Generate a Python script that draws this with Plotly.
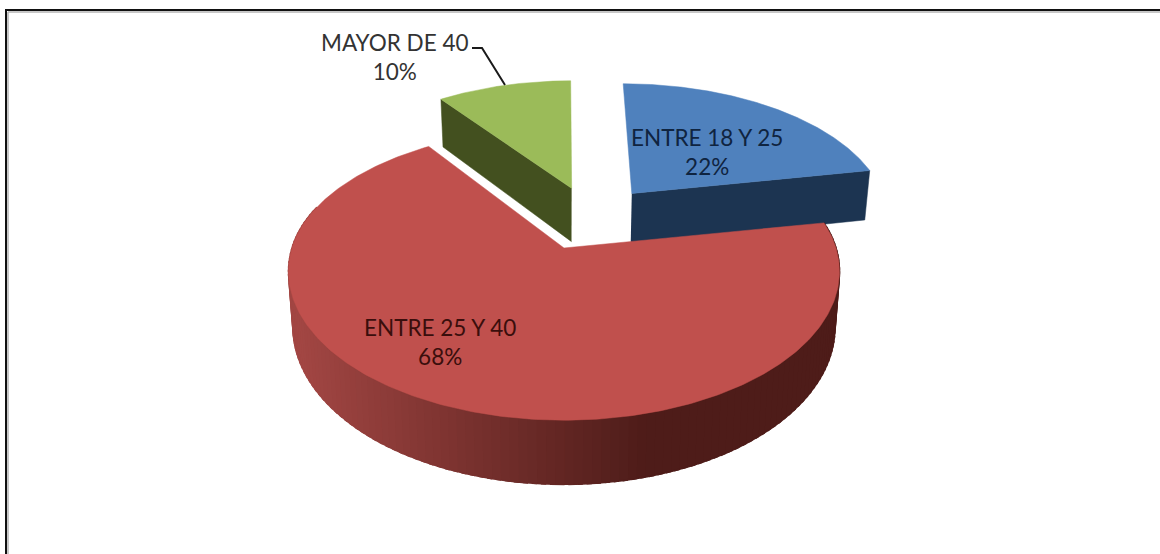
import numpy as np
import plotly.graph_objects as go

categories = ["ENTRE 18 Y 25", "ENTRE 25 Y 40", "MAYOR DE 40"]
values = [22, 68, 10]
percent_labels = ["22%", "68%", "10%"]

top_colors = ["#4F81BD", "#C0504D", "#9BBB59"]
side_colors = ["#1C3451", "#4E1C19", "#43501F"]
pulls = [(0.265, 0.40), (0.0, 0.0), (0.03, 0.44)]
radii = [0.98, 1.0, 0.97]
depths = [54.0, 54.0, 57.0]

CX, CY, A, B, K, SHRINK = 564.0, 248.0, 272.0, 145.0, 0.158, 0.0003
RED_END_NUDGE = 2.0   # degrees; the drawn cut sits a little past the rounded share
RED_BACK_SCALE = 0.95


def project(X, Y, z=0.0):
    d = 1 + K * Y
    return CX + A * X / d * (1 - SHRINK * z), CY + (-B * Y + z) / d


def mix(c1, c2, t):
    a = [int(c1[i:i + 2], 16) for i in (1, 3, 5)]
    b = [int(c2[i:i + 2], 16) for i in (1, 3, 5)]
    return "rgb(%d,%d,%d)" % tuple(round(p + (q - p) * t) for p, q in zip(a, b))


fig = go.Figure()


def poly(xs, ys, color, width=0.5):
    fig.add_trace(go.Scatter(x=list(xs), y=list(ys), mode="lines", fill="toself",
                             fillcolor=color, line=dict(color=color, width=width),
                             hoverinfo="skip", showlegend=False))


def draw_slice(i, t0, t1):
    if i == 1:
        t1 += RED_END_NUDGE
    th = np.radians(np.linspace(t0, t1, 300))
    ox, oy = pulls[i]
    r = radii[i]
    X = ox + r * np.sin(th)
    cos_part = np.cos(th)
    if i == 1:
        cos_part = np.where(cos_part > 0, cos_part * RED_BACK_SCALE, cos_part)
    Y = oy + r * cos_part
    dz = depths[i]
    ax, ay0 = project(ox, oy)
    ax1, ay1 = project(ox, oy, dz)
    if i in (0, 2):
        j = -1 if i == 0 else 0
        bx, by0 = project(X[j], Y[j])
        bx1, by1 = project(X[j], Y[j], dz)
        poly([ax, bx, bx1, ax1], [ay0, by0, by1, ay1], side_colors[i])
    else:
        keep = np.where(np.cos(th) < 0.3)[0]
        step = 2
        for k in keep[:-step:step]:
            m = min(k + step + 1, len(th) - 1)
            xa, ya0 = project(X[k], Y[k])
            xb, yb0 = project(X[m], Y[m])
            xa1, ya1 = project(X[k], Y[k], dz)
            xb1, yb1 = project(X[m], Y[m], dz)
            t = float(np.clip((xa - 300) / 350, 0, 1))
            poly([xa, xb, xb1, xa1], [ya0, yb0, yb1, ya1],
                 mix("#A24643", side_colors[1], t), width=1.6)
    xs, ys = project(X, Y)
    poly([ax] + list(xs) + [ax], [ay0] + list(ys) + [ay0], top_colors[i])


spans = []
start = 0.0
for v in values:
    end = start + v / sum(values) * 360
    spans.append((start, end))
    start = end

for i in (2, 0, 1):
    draw_slice(i, *spans[i])

# leader line for the smallest slice
fig.add_trace(go.Scatter(x=[472, 482, 505], y=[48, 48, 85], mode="lines",
                         line=dict(color="#1a1a1a", width=2),
                         hoverinfo="skip", showlegend=False))

label_pos = [(707, 152), (440, 342), (395, 57)]
label_col = ["#0F2440", "#3A0E0C", "#333333"]
for i, (lx, ly) in enumerate(label_pos):
    fig.add_annotation(x=lx, y=ly, text=f"{categories[i]}<br>{percent_labels[i]}",
                       showarrow=False, align="center",
                       font=dict(family="Lato, Open Sans, sans-serif", size=22.5, color=label_col[i]))

# Frame: top and left edges only are visible, with a soft grey inner edge
for kw, col, w in [
    (dict(x0=8, y0=12, x1=1160, y1=12), "#B5B5B5", 1.5),
    (dict(x0=8, y0=12, x1=8, y1=554), "#B5B5B5", 1.5),
    (dict(x0=5, y0=10, x1=1160, y1=10), "#111111", 2),
    (dict(x0=6, y0=10, x1=6, y1=554), "#111111", 2),
]:
    fig.add_shape(type="line", line=dict(color=col, width=w), **kw)

fig.update_layout(width=1160, height=554, margin=dict(l=0, r=0, t=0, b=0),
                  paper_bgcolor="white", plot_bgcolor="white", showlegend=False,
                  xaxis=dict(range=[0, 1160], visible=False, fixedrange=True),
                  yaxis=dict(range=[554, 0], visible=False, fixedrange=True))
fig.write_html("out.html", config=dict(displayModeBar=False),
               post_script="document.body.style.margin='0';document.body.style.overflow='hidden';")
